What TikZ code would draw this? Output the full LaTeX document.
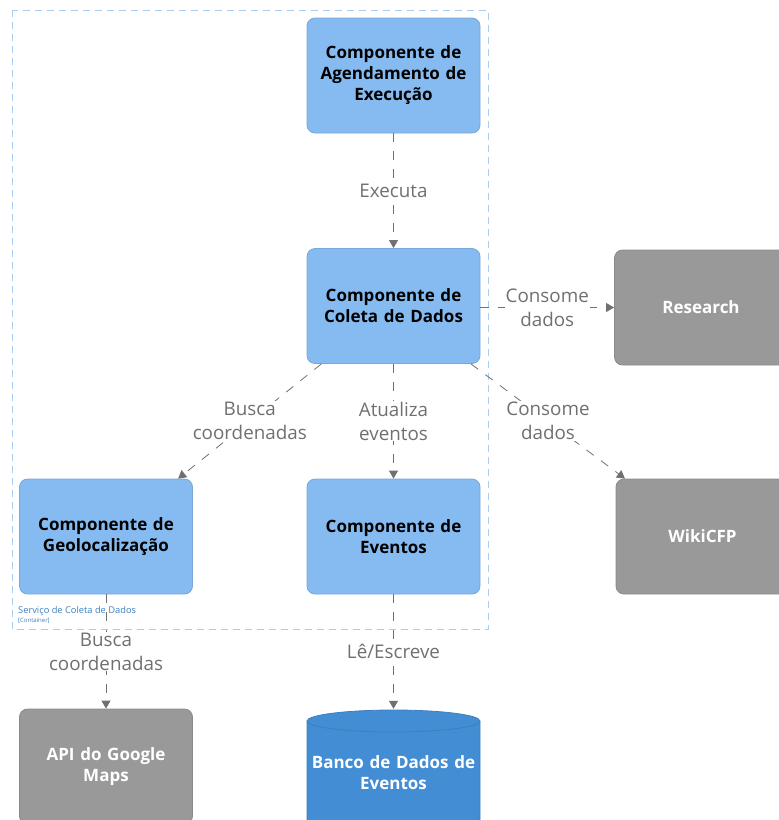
\documentclass[tikz,border=0pt]{standalone}
\usepackage{fontspec}
\setmainfont{Open Sans}
\usetikzlibrary{arrows.meta}
\definecolor{compfill}{HTML}{85BBF0}
\definecolor{compline}{HTML}{78A8D8}
\definecolor{extfill}{HTML}{999999}
\definecolor{extline}{HTML}{8A8A8A}
\definecolor{dbfill}{HTML}{438DD5}
\definecolor{dbline}{HTML}{3C7FC0}
\definecolor{relcol}{HTML}{707070}
\definecolor{bndline}{HTML}{A9CDF0}
\definecolor{bndtext}{HTML}{3C7FC0}
\tikzset{
  comp/.style={rectangle, rounded corners=8pt, fill=compfill, draw=compline, line width=0.8pt,
    minimum width=173pt, minimum height=115pt, text width=165pt, align=center,
    font=\fontsize{17}{21}\selectfont\bfseries, text=black},
  ext/.style={comp, fill=extfill, draw=extline, text=white},
  dbtext/.style={rectangle, minimum width=173pt, minimum height=128pt, text width=165pt, align=center,
    font=\fontsize{17}{21}\selectfont\bfseries, text=white},
  rel/.style={draw=relcol, line width=0.8pt, dash pattern=on 9pt off 9pt,
    -{Triangle[width=9pt,length=8pt]}},
  rellabel/.style={fill=white, inner sep=1pt, align=center, text=relcol,
    font=\fontsize{18.8}{24}\selectfont},
}
\begin{document}
\begin{tikzpicture}[x=1pt, y=-1pt]
\useasboundingbox (0,0) rectangle (779,820);
\clip (0,0) rectangle (779,820);

% container boundary
\draw[bndline, line width=0.8pt, dash pattern=on 7pt off 5pt] (12,10) rectangle (488,629);
\node[anchor=south west, inner sep=0pt, text=bndtext, font=\fontsize{9.3}{10}\selectfont] (bndname) at (18,616) {Serviço de Coleta de Dados};
\node[anchor=north west, inner sep=0pt, text=bndtext, font=\fontsize{6}{7}\selectfont] (bndtype) at (18,618) {[Container]};

% components inside the container
\node[comp] (agenda) at (393.5,75.5) {Componente de\\Agendamento de\\Execução};
\node[comp] (coleta) at (393.5,306) {Componente de\\Coleta de Dados};
\node[comp] (geo) at (106,536.5) {Componente de\\Geolocalização};
\node[comp] (eventos) at (393.5,536.5) {Componente de\\Eventos};

% external systems
\node[ext] (research) at (701,307.5) {Research};
\node[ext] (wikicfp) at (702.5,536.5) {WikiCFP};
\node[ext] (maps) at (106,766.5) {API do Google\\Maps};

% event database (cylinder)
\path[fill=dbfill, draw=dbline, line width=0.8pt]
  (307,721) -- (307,860) -- (480,860) -- (480,721)
  arc[start angle=0, end angle=180, x radius=86.5pt, y radius=11pt] -- cycle;
\draw[dbline, line width=0.8pt] (307,721) arc[start angle=180, end angle=360, x radius=86.5pt, y radius=11pt];
\node[dbtext] (banco) at (393.5,773) {Banco de Dados de\\Eventos};

% relationships
\draw[rel] (agenda) -- node[rellabel] {Executa} (coleta);
\draw[rel] (coleta.east |- research.west) -- node[rellabel] {Consome\\dados} (research.west);
\draw[rel] (coleta) -- node[rellabel] {Consome\\dados} (wikicfp);
\draw[rel] (coleta) -- node[rellabel] {Busca\\coordenadas} (geo);
\draw[rel] (coleta) -- node[rellabel] {Atualiza\\eventos} (eventos);
\draw[rel] (geo) -- node[rellabel] {Busca\\coordenadas} (maps);
\draw[rel] (eventos) -- node[rellabel] {Lê/Escreve} (banco.north);
\end{tikzpicture}
\end{document}
